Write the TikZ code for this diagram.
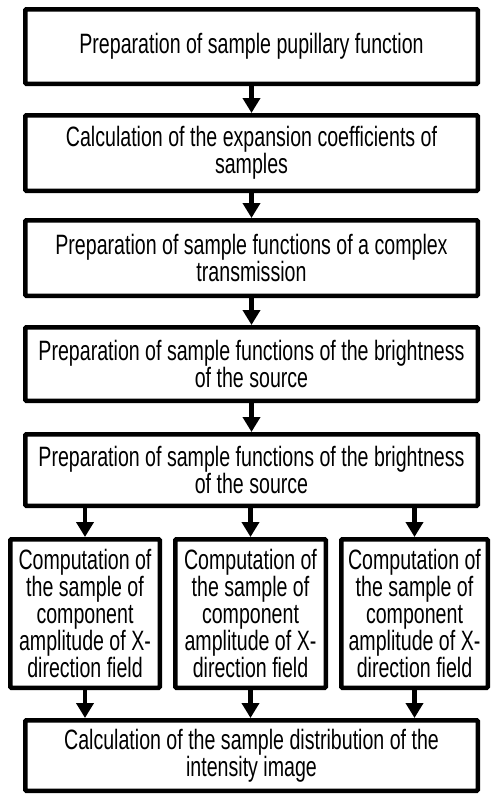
\documentclass[tikz,border=0pt]{standalone}
\usepackage{fontspec}
\setmainfont{Liberation Sans}[FakeStretch=0.70]
\usetikzlibrary{arrows.meta}
\begin{document}
\begin{tikzpicture}[x=1pt,y=-1pt,
  box/.style={draw=black, line width=4.5pt, fill=white, inner sep=0pt, align=center,
    font=\fontsize{28}{27}\selectfont, rounded corners=1pt},
  flow/.style={line width=4.5pt, -{Triangle[width=17pt,length=15pt]}}
]
\useasboundingbox (0,0) rectangle (491,796);
\node[box, minimum width=452.5pt, minimum height=74.5pt] (b1) at (251.5,46.5) {Preparation of sample pupillary function};
\node[box, minimum width=452.5pt, minimum height=75.5pt] (b2) at (251.5,153) {Calculation of the expansion coefficients of\\samples};
\node[box, minimum width=452.5pt, minimum height=75.5pt] (b3) at (251.5,258) {Preparation of sample functions of a complex\\transmission};
\node[box, minimum width=452.5pt, minimum height=73.5pt] (b4) at (251.5,364) {Preparation of sample functions of the brightness\\of the source};
\node[box, minimum width=452.5pt, minimum height=71.5pt] (b5) at (251.5,470) {Preparation of sample functions of the brightness\\of the source};
\node[box, minimum width=149.5pt, minimum height=148.5pt] (s1) at (85,613.5) {Computation of\\the sample of\\component\\amplitude of X-\\direction field};
\node[box, minimum width=150.5pt, minimum height=148.5pt] (s2) at (250.5,613.5) {Computation of\\the sample of\\component\\amplitude of X-\\direction field};
\node[box, minimum width=146.5pt, minimum height=148.5pt] (s3) at (414.5,613.5) {Computation of\\the sample of\\component\\amplitude of X-\\direction field};
\node[box, minimum width=452.5pt, minimum height=70.5pt] (b6) at (251.5,755.5) {Calculation of the sample distribution of the\\intensity image};
\draw[flow] (b1.south) -- (b2.north);
\draw[flow] (b2.south) -- (b3.north);
\draw[flow] (b3.south) -- (b4.north);
\draw[flow] (b4.south) -- (b5.north);
\draw[flow] (s1.north |- b5.south) -- (s1.north);
\draw[flow] (s2.north |- b5.south) -- (s2.north);
\draw[flow] (s3.north |- b5.south) -- (s3.north);
\draw[flow] (s1.south) -- (s1.south |- b6.north);
\draw[flow] (s2.south) -- (s2.south |- b6.north);
\draw[flow] (s3.south) -- (s3.south |- b6.north);
\end{tikzpicture}
\end{document}
